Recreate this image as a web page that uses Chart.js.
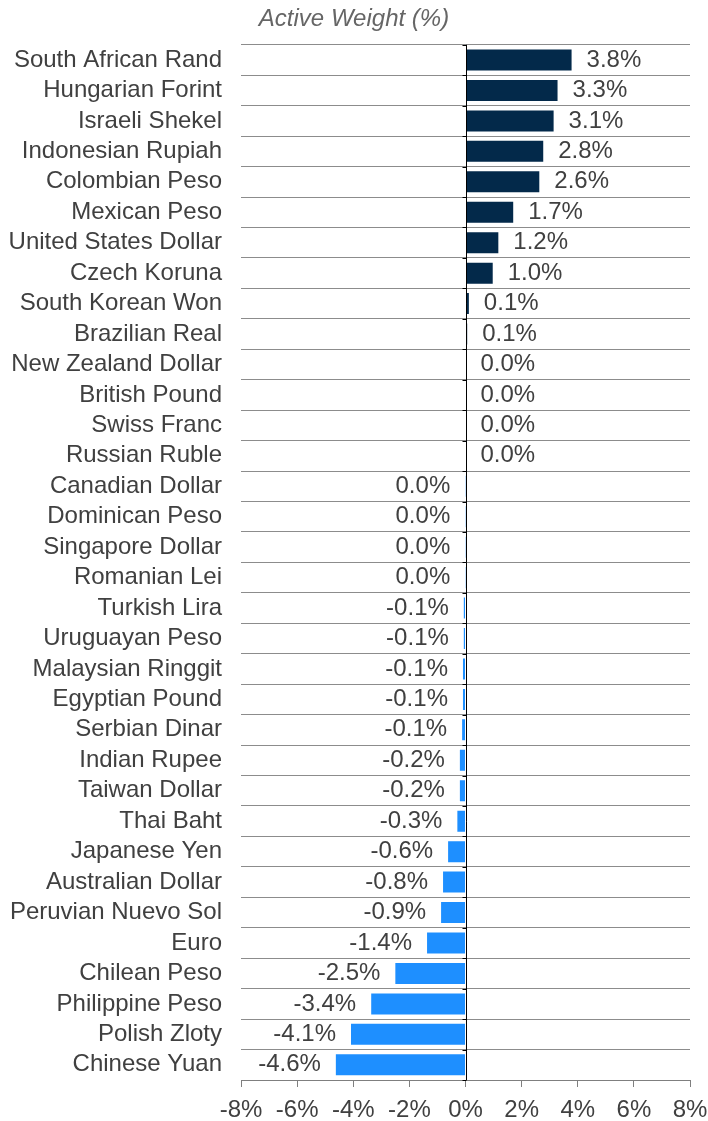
<!DOCTYPE html>
<html>
<head>
<meta charset="utf-8">
<script src="https://cdn.jsdelivr.net/npm/chart.js@4.4.1/dist/chart.umd.min.js"></script>
<style>
  html, body { margin: 0; padding: 0; background: #fff; }
  #wrap { width: 708px; height: 1121px; }
</style>
</head>
<body>
<div id="wrap"><canvas id="chart" width="708" height="1121"></canvas></div>
<script>
const currencies = [
  'South African Rand', 'Hungarian Forint', 'Israeli Shekel', 'Indonesian Rupiah',
  'Colombian Peso', 'Mexican Peso', 'United States Dollar', 'Czech Koruna',
  'South Korean Won', 'Brazilian Real', 'New Zealand Dollar', 'British Pound',
  'Swiss Franc', 'Russian Ruble', 'Canadian Dollar', 'Dominican Peso',
  'Singapore Dollar', 'Romanian Lei', 'Turkish Lira', 'Uruguayan Peso',
  'Malaysian Ringgit', 'Egyptian Pound', 'Serbian Dinar', 'Indian Rupee',
  'Taiwan Dollar', 'Thai Baht', 'Japanese Yen', 'Australian Dollar',
  'Peruvian Nuevo Sol', 'Euro', 'Chilean Peso', 'Philippine Peso',
  'Polish Zloty', 'Chinese Yuan'
];

// active weight in %
const activeWeight = [
  3.78, 3.28, 3.14, 2.77,
  2.63, 1.70, 1.17, 0.97,
  0.12, 0.06, 0, 0,
  0, 0, -0.01, -0.01,
  -0.01, -0.01, -0.06, -0.06,
  -0.09, -0.09, -0.12, -0.2,
  -0.2, -0.29, -0.62, -0.8,
  -0.87, -1.37, -2.5, -3.36,
  -4.08, -4.62
];

const xTicks = [-8, -6, -4, -2, 0, 2, 4, 6, 8];

const POS_COLOR = '#03294a';
const NEG_COLOR = '#1e8fff';
const TEXT_COLOR = '#404040';
const FONT = "'Liberation Sans', Arial, sans-serif";

function fmt(v) {
  const r = Math.abs(v) < 0.05 ? 0 : v;
  return r.toFixed(1) + '%';
}

// value labels + zero line with its small ticks
const barLabels = {
  id: 'barLabels',
  afterDatasetsDraw(chart) {
    const ctx = chart.ctx;
    const xs = chart.scales.x;
    const ys = chart.scales.y;
    const area = chart.chartArea;
    const meta = chart.getDatasetMeta(0);

    ctx.save();
    ctx.font = '24px ' + FONT;
    ctx.fillStyle = TEXT_COLOR;
    ctx.textBaseline = 'middle';
    meta.data.forEach((bar, i) => {
      const v = activeWeight[i];
      if (v < 0) {
        ctx.textAlign = 'right';
        ctx.fillText(fmt(v), bar.x - 15, bar.y);
      } else {
        ctx.textAlign = 'left';
        ctx.fillText(fmt(v), bar.x + 15, bar.y);
      }
    });

    // zero line
    const x0 = Math.round(xs.getPixelForValue(0)) + 0.5;
    ctx.strokeStyle = '#000';
    ctx.lineWidth = 1;
    ctx.beginPath();
    ctx.moveTo(x0, area.top);
    ctx.lineTo(x0, area.bottom);
    const step = ys.getPixelForValue(1) - ys.getPixelForValue(0);
    for (let i = 0; i <= currencies.length; i++) {
      const y = Math.round(ys.getPixelForValue(i) - step / 2) + 0.5;
      ctx.moveTo(x0 - 4, y);
      ctx.lineTo(x0, y);
    }
    ctx.stroke();
    ctx.restore();
  }
};

new Chart(document.getElementById('chart'), {
  type: 'bar',
  data: {
    labels: currencies,
    datasets: [{
      data: activeWeight,
      backgroundColor: activeWeight.map(v => v >= 0 ? POS_COLOR : NEG_COLOR),
      barPercentage: 0.69,
      categoryPercentage: 1.0
    }]
  },
  options: {
    indexAxis: 'y',
    responsive: false,
    animation: false,
    layout: { padding: 0 },
    plugins: {
      legend: { display: false },
      tooltip: { enabled: false },
      title: {
        display: true,
        text: 'Active Weight (%)',
        color: '#666666',
        font: { family: FONT, size: 24, style: 'italic', weight: 'normal' },
        padding: { top: 5, bottom: 11 }
      }
    },
    scales: {
      x: {
        min: -8,
        max: 8,
        afterBuildTicks: scale => { scale.ticks = xTicks.map(v => ({ value: v })); },
        afterFit: scale => {
          scale.height = 41;
          scale.paddingLeft = 16;
          scale.paddingRight = 18;
        },
        grid: {
          drawOnChartArea: false,
          drawTicks: true,
          tickLength: 7,
          color: '#7f7f7f'
        },
        border: { display: true, color: '#7f7f7f' },
        ticks: {
          padding: 9,
          color: TEXT_COLOR,
          font: { family: FONT, size: 24 },
          callback: v => v + '%'
        }
      },
      y: {
        afterFit: scale => {
          scale.width = 241;
          scale.paddingTop = 0;
          scale.paddingBottom = 0;
        },
        grid: {
          offset: true,
          drawTicks: false,
          color: '#8c8c8c'
        },
        border: { display: false },
        ticks: {
          padding: 19,
          color: TEXT_COLOR,
          font: { family: FONT, size: 24 },
          autoSkip: false
        }
      }
    }
  },
  plugins: [barLabels]
});
</script>
</body>
</html>
